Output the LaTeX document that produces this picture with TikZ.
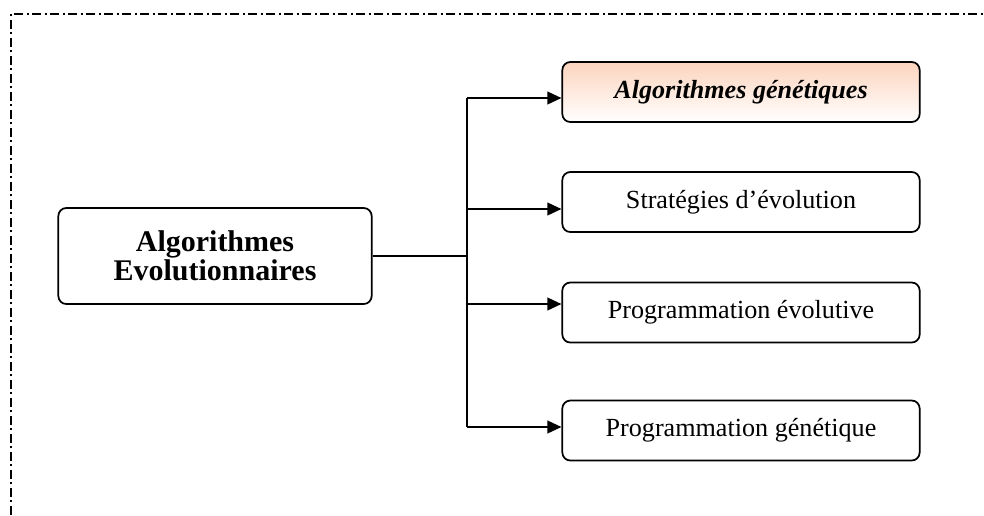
\documentclass[tikz,border=0pt]{standalone}
\usepackage{fontspec}
\setmainfont{Liberation Serif}
\usetikzlibrary{arrows.meta, positioning}

\definecolor{peach}{RGB}{252,212,190}

\begin{document}
\begin{tikzpicture}[x=0.75pt, y=-0.75pt, >={Triangle[length=10.5pt,width=9.5pt]},
	box/.style={draw, line width=1.3pt, rounded corners=6pt, minimum width=268pt,
		minimum height=45pt, inner sep=0pt, font=\fontsize{19.6}{22}\selectfont},
	mainbox/.style={draw, line width=1.3pt, rounded corners=6pt, minimum width=235pt,
		minimum height=72pt, inner sep=0pt, align=center,
		font=\fontsize{22.5}{22}\selectfont\bfseries},
	link/.style={line width=1.2pt}]
	
	% -------------------------------------------------------------------------
	% 1. Cadre (trait mixte)
	% -------------------------------------------------------------------------
	\useasboundingbox (0,0) rectangle (984,515);
	\draw[line width=0.8pt, dash pattern=on 7pt off 2.5pt on 1.5pt off 2.5pt]
	(11,515) -- (11,14) -- (984,14);
	
	% -------------------------------------------------------------------------
	% 2. Boites
	% -------------------------------------------------------------------------
	\node[mainbox] (algo) at (215,256) {Algorithmes\\Evolutionnaires};
	
	\node[box, top color=peach, bottom color=white, font=\fontsize{19.6}{22}\selectfont\bfseries\itshape]
	(ag) at (741,92) {Algorithmes génétiques};
	\node[box] (se) at (741,202) {Stratégies d’évolution};
	\node[box] (pe) at (741,312.5) {Programmation évolutive};
	\node[box] (pg) at (741,430.5) {Programmation génétique};
	
	% -------------------------------------------------------------------------
	% 3. Liaisons
	% -------------------------------------------------------------------------
	\coordinate (hub) at (467,256);
	\coordinate (jA) at (467,98);
	\coordinate (jB) at (467,209);
	\coordinate (jC) at (467,304);
	\coordinate (jD) at (467,427);
	
	\draw[link] (algo.east) -- (hub);
	\draw[link] (jA) -- (jD);
	\draw[link, ->] (jA) -- (jA -| ag.west);
	\draw[link, ->] (jB) -- (jB -| se.west);
	\draw[link, ->] (jC) -- (jC -| pe.west);
	\draw[link, ->] (jD) -- (jD -| pg.west);
	
\end{tikzpicture}
\end{document}
